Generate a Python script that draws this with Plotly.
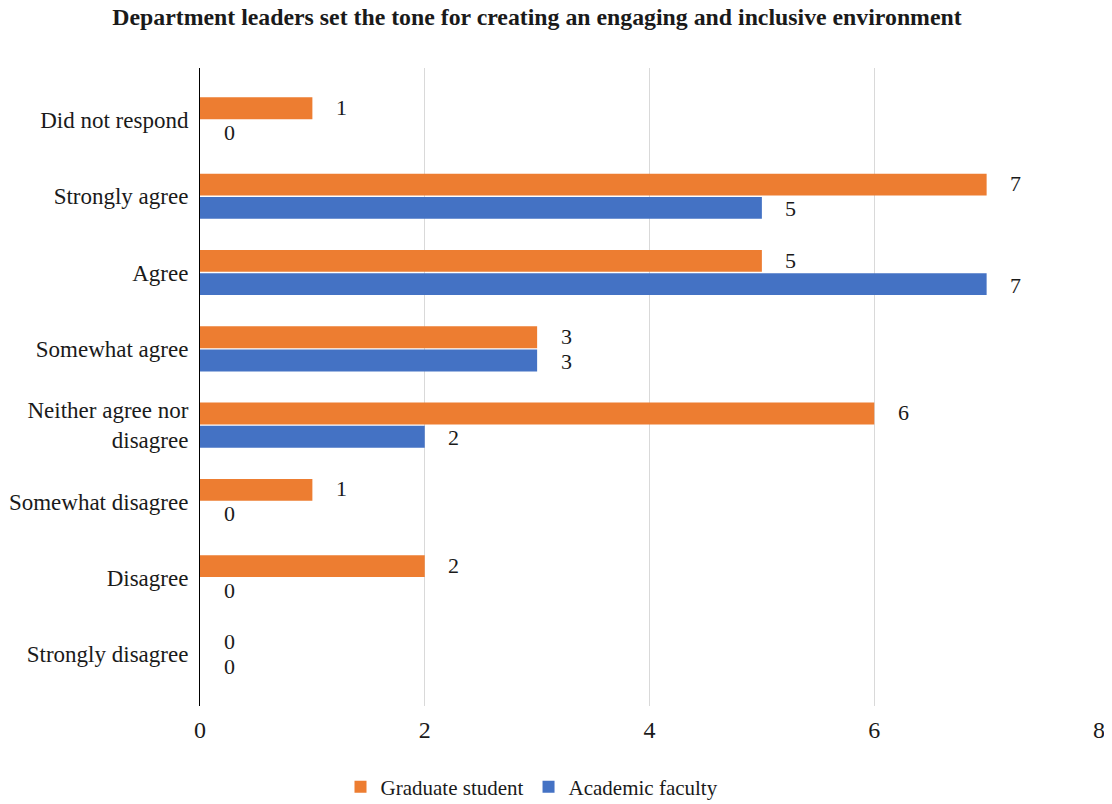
import plotly.graph_objects as go

categories = ["Strongly disagree", "Disagree", "Somewhat disagree",
              "Neither agree nor<br>disagree", "Somewhat agree", "Agree",
              "Strongly agree", "Did not respond"]
graduate = [0, 2, 1, 6, 3, 5, 7, 1]
faculty = [0, 0, 0, 2, 3, 7, 5, 0]
x_ticks = [0, 2, 4, 6, 8]

ORANGE = "#ED7D31"
BLUE = "#4472C4"
FONT = "Liberation Serif"
TXT = "#1a1a1a"

W, H = 1104, 796  # page body has an 8px margin

fig = go.Figure()
fig.add_trace(go.Bar(y=categories, x=faculty, orientation="h", name="Academic faculty",
                     marker=dict(color=BLUE, line=dict(width=0))))
fig.add_trace(go.Bar(y=categories, x=graduate, orientation="h", name="Graduate student",
                     marker=dict(color=ORANGE, line=dict(width=0))))

annotations = []
for cat, g, f in zip(categories, graduate, faculty):
    annotations.append(dict(x=g, y=cat, text=str(g), showarrow=False, xanchor="center",
                            xshift=29, yshift=12.5, font=dict(family=FONT, size=22, color=TXT)))
    annotations.append(dict(x=f, y=cat, text=str(f), showarrow=False, xanchor="center",
                            xshift=29, yshift=-12.5, font=dict(family=FONT, size=22, color=TXT)))

fig.update_layout(
    width=W, height=H,
    margin=dict(l=192, r=13, t=60, b=98, autoexpand=False),
    paper_bgcolor="white", plot_bgcolor="white",
    barmode="group", bargap=0.39, bargroupgap=0.06,
    title=dict(text="<b>Department leaders set the tone for creating an engaging and inclusive environment</b>",
               x=529/W, xref="container", xanchor="center", y=1, yref="container",
               yanchor="top", pad=dict(t=0, b=0),
               font=dict(family=FONT, size=23.8, color=TXT)),
    font=dict(family=FONT, size=22, color=TXT),
    legend=dict(orientation="h", traceorder="reversed", x=(532-200)/899, xanchor="center",
                y=(706-787)/638, yanchor="middle", font=dict(family=FONT, size=21, color=TXT),
                itemwidth=30),
    annotations=annotations,
    showlegend=True,
)
fig.update_xaxes(range=[0, 8], tickvals=x_ticks, showgrid=True, gridcolor="#D9D9D9", gridwidth=1,
                 zeroline=False, showline=False, ticks="", ticklabelstandoff=7, automargin=False,
                 tickfont=dict(family=FONT, size=24, color=TXT))
fig.update_yaxes(categoryorder="array", categoryarray=categories, range=[-0.68, 7.68],
                 showline=True, linecolor="#000000", linewidth=1, showgrid=False, ticks="",
                 ticklabelstandoff=6, automargin=False,
                 tickfont=dict(family=FONT, size=23, color=TXT))

fig.write_html("out.html")
